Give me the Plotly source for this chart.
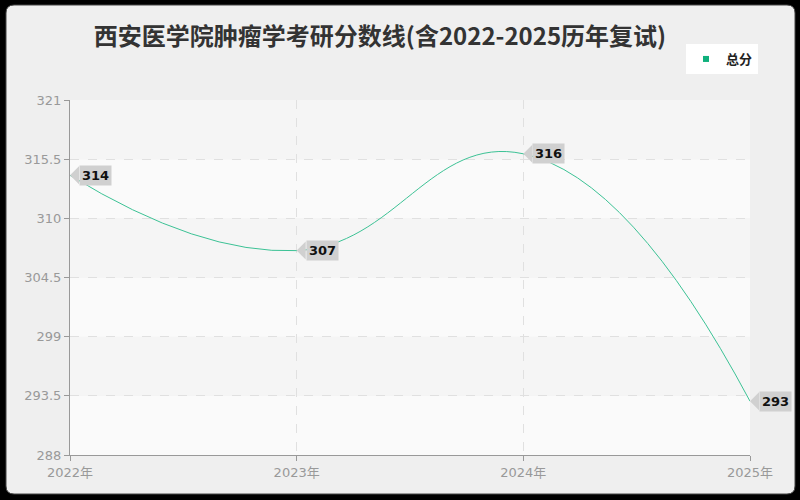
import plotly.graph_objects as go

years = [2022, 2023, 2024, 2025]
year_labels = ["2022年", "2023年", "2024年", "2025年"]
scores = [314, 307, 316, 293]
y_ticks = [288, 293.5, 299, 304.5, 310, 315.5, 321]
series_name = "总分"
title_text = "西安医学院肿瘤学考研分数线(含2022-2025历年复试)"

LINE = "#3cc295"
FONT = "Noto Sans CJK SC, Noto Sans, DejaVu Sans"
TICKFONT = "DejaVu Sans, Noto Sans CJK SC"

W, H = 800, 500
ML, MR, MT, MB = 70, 50, 100, 45
PW, PH = W - ML - MR, H - MT - MB

def px_x(p):
    return (p - ML) / PW

def px_y(p):
    return (H - MB - p) / PH

fig = go.Figure()

fig.add_trace(go.Scatter(
    x=years, y=scores, mode="lines",
    line=dict(color=LINE, width=1, shape="spline", smoothing=1.3),
    showlegend=False, hoverinfo="x+y",
))
fig.add_trace(go.Scatter(
    x=[None], y=[None], mode="markers", name=series_name,
    marker=dict(symbol="square", size=6, color="#0fb07c"),
    showlegend=True,
))

shapes = []
# outer rounded light panel on black background
x0, x1 = px_x(6), px_x(795)
y0, y1 = px_y(494), px_y(5)
r_x, r_y = 8 / PW, 8 / PH
path = (f"M {x0 + r_x},{y1} L {x1 - r_x},{y1} Q {x1},{y1} {x1},{y1 - r_y} "
        f"L {x1},{y0 + r_y} Q {x1},{y0} {x1 - r_x},{y0} L {x0 + r_x},{y0} "
        f"Q {x0},{y0} {x0},{y0 + r_y} L {x0},{y1 - r_y} Q {x0},{y1} {x0 + r_x},{y1} Z")
shapes.append(dict(type="path", xref="paper", yref="paper", path=path,
                   fillcolor="#efefef", line=dict(color="#444444", width=1), layer="below"))
# alternating background bands
for i in range(len(y_ticks) - 1):
    lo, hi = y_ticks[i], y_ticks[i + 1]
    col = "#f5f5f5" if i % 2 == 1 else "#fafafa"
    shapes.append(dict(type="rect", xref="paper", yref="y", x0=0, x1=1, y0=lo, y1=hi,
                       fillcolor=col, line=dict(width=0), layer="below"))

annotations = []
for xv, yv in zip(years, scores):
    annotations.append(dict(x=xv, y=yv, xref="x", yref="y", text=str(yv),
                            showarrow=True, ax=9, ay=0, xanchor="left", yanchor="middle",
                            arrowhead=1, arrowsize=3, arrowwidth=1, arrowcolor="#d0d0d0",
                            standoff=0, startstandoff=0,
                            bgcolor="#d0d0d0", borderpad=2,
                            font=dict(size=13, color="#111111", family=TICKFONT, weight=600)))

fig.update_layout(
    width=W, height=H,
    margin=dict(l=ML, r=MR, t=MT, b=MB),
    paper_bgcolor="#000000",
    plot_bgcolor="#fbfbfb",
    font=dict(family=FONT, color="#999999"),
    title=dict(text=title_text, x=px_x(380), xanchor="center", xref="paper",
               y=1 - 37 / H, yanchor="middle",
               font=dict(size=24, color="#333333", family=FONT, weight=600)),
    legend=dict(x=px_x(686), y=px_y(44), xanchor="left", yanchor="top",
                bgcolor="#ffffff", font=dict(size=13, color="#222222", family=FONT, weight=600),
                itemwidth=30, borderwidth=0, tracegroupgap=0),
    shapes=shapes,
    annotations=annotations,
    xaxis=dict(range=[2022, 2025], tickvals=years, ticktext=year_labels,
               showgrid=True, gridcolor="#e0e0e0", griddash="dash", gridwidth=1,
               showline=True, linecolor="#999999", linewidth=1,
               ticks="outside", ticklen=5, tickcolor="#999999",
               tickfont=dict(size=13, color="#999999", family=TICKFONT), zeroline=False,
               fixedrange=True),
    yaxis=dict(range=[288, 321], tickvals=y_ticks, ticktext=[str(t) for t in y_ticks],
               showgrid=True, gridcolor="#e0e0e0", griddash="dash", gridwidth=1,
               showline=True, linecolor="#999999", linewidth=1,
               ticks="outside", ticklen=5, tickcolor="#999999",
               tickfont=dict(size=13, color="#999999", family=TICKFONT), zeroline=False,
               fixedrange=True),
)

fig.write_html("out.html", config={"displayModeBar": False},
               post_script="document.body.style.margin='0';document.body.style.overflow='hidden';")
